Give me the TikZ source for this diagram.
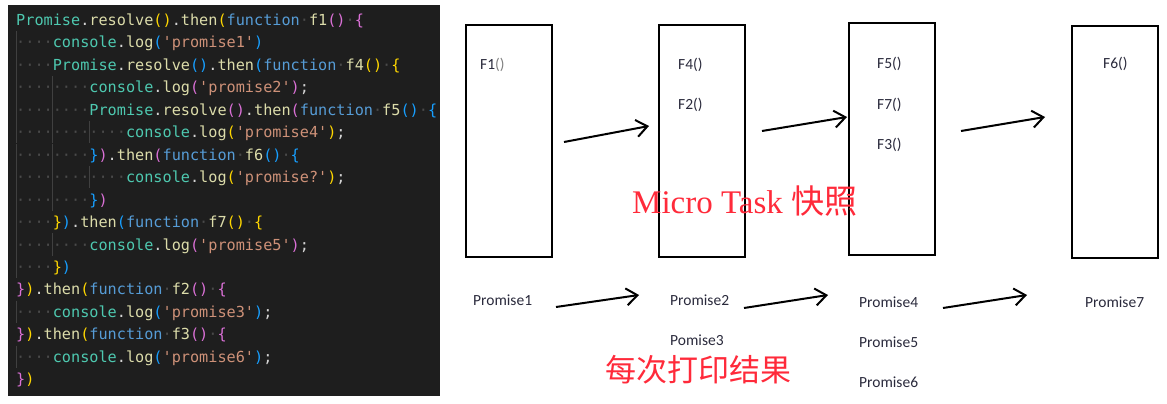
\documentclass[tikz,border=0pt]{standalone}
\usepackage{fontspec}
\setmonofont{DejaVu Sans Mono}
\newfontfamily\lab{Carlito}
\newfontfamily\redser{Liberation Serif}
\newfontfamily\cjk{Noto Sans CJK SC}
\usetikzlibrary{arrows.meta}
\definecolor{bgc}{HTML}{1E1E1E}
\definecolor{cls}{HTML}{4EC9B0}
\definecolor{fnc}{HTML}{DCDCAA}
\definecolor{kwc}{HTML}{569CD6}
\definecolor{strc}{HTML}{CE9178}
\definecolor{punc}{HTML}{D4D4D4}
\definecolor{brA}{HTML}{FFD700}
\definecolor{brB}{HTML}{DA70D6}
\definecolor{brC}{HTML}{179FFF}
\definecolor{wsc}{HTML}{4A4A4A}
\definecolor{guide}{HTML}{404040}
\definecolor{labc}{HTML}{2A2A3C}
\definecolor{redt}{HTML}{FF2A3A}
\newcommand\Cl[1]{\textcolor{cls}{#1}}
\newcommand\Fn[1]{\textcolor{fnc}{#1}}
\newcommand\Kw[1]{\textcolor{kwc}{#1}}
\newcommand\St[1]{\textcolor{strc}{#1}}
\newcommand\Pu[1]{\textcolor{punc}{#1}}
\newcommand\bra[1]{\textcolor{brA}{#1}}
\newcommand\brb[1]{\textcolor{brB}{#1}}
\newcommand\brc[1]{\textcolor{brC}{#1}}
\newcommand\wsp{\textcolor{wsc}{·}}
\newcommand\wsf{\wsp\wsp\wsp\wsp}
\newcommand\codeln[2]{\node[codeln] (c#1) at (16,{25.5+22.45*(#1-1)}) {#2};}
\newcommand\guideseg[2]{\draw[guidel] ({16+9.15*#1},{20+22.45*(#2-1)-11.2}) -- ({16+9.15*#1},{20+22.45*(#2-1)+11.2});}
\begin{document}
\begin{tikzpicture}[x=1pt,y=-1pt,
  codeln/.style={anchor=base west,inner sep=0pt,font=\ttfamily\fontsize{15.2}{18}\selectfont},
  guidel/.style={draw=guide,line width=0.8pt},
  qbox/.style={draw=black,line width=2pt,minimum width=86pt,minimum height=232pt,inner sep=0pt},
  flab/.style={anchor=west,inner sep=0pt,text=labc,font=\lab\fontsize{15.5}{18}\selectfont},
  plab/.style={anchor=west,inner sep=0pt,text=labc,font=\lab\fontsize{15.5}{18}\selectfont},
  arr/.style={line width=2pt,-{Straight Barb[length=11pt,width=17pt,line width=2pt]}}]
\useasboundingbox (0,0) rectangle (1167,404);
% code panel
\fill[bgc] (8,5) rectangle (440,396);
% indent guides
\foreach \r in {2,...,12,14,16} {\guideseg{0}{\r}}
\foreach \r in {4,...,9,11} {\guideseg{4}{\r}}
\foreach \r in {6,8} {\guideseg{8}{\r}}
\codeln{1}{\Cl{Promise}\Pu{.}\Fn{resolve}\bra{()}\Pu{.}\Fn{then}\bra{(}\Kw{function}\wsp\Fn{f1}\brb{()}\wsp\brb{\{}}
\codeln{2}{\wsf\Cl{console}\Pu{.}\Fn{log}\brc{(}\St{'promise1'}\brc{)}}
\codeln{3}{\wsf\Cl{Promise}\Pu{.}\Fn{resolve}\brc{()}\Pu{.}\Fn{then}\brc{(}\Kw{function}\wsp\Fn{f4}\bra{()}\wsp\bra{\{}}
\codeln{4}{\wsf\wsf\Cl{console}\Pu{.}\Fn{log}\brb{(}\St{'promise2'}\brb{)}\Pu{;}}
\codeln{5}{\wsf\wsf\Cl{Promise}\Pu{.}\Fn{resolve}\brb{()}\Pu{.}\Fn{then}\brb{(}\Kw{function}\wsp\Fn{f5}\brc{()}\wsp\brc{\{}}
\codeln{6}{\wsf\wsf\wsf\Cl{console}\Pu{.}\Fn{log}\bra{(}\St{'promise4'}\bra{)}\Pu{;}}
\codeln{7}{\wsf\wsf\brc{\}}\brb{)}\Pu{.}\Fn{then}\brb{(}\Kw{function}\wsp\Fn{f6}\brc{()}\wsp\brc{\{}}
\codeln{8}{\wsf\wsf\wsf\Cl{console}\Pu{.}\Fn{log}\bra{(}\St{'promise?'}\bra{)}\Pu{;}}
\codeln{9}{\wsf\wsf\brc{\}}\brb{)}}
\codeln{10}{\wsf\bra{\}}\brc{)}\Pu{.}\Fn{then}\brc{(}\Kw{function}\wsp\Fn{f7}\bra{()}\wsp\bra{\{}}
\codeln{11}{\wsf\wsf\Cl{console}\Pu{.}\Fn{log}\brb{(}\St{'promise5'}\brb{)}\Pu{;}}
\codeln{12}{\wsf\bra{\}}\brc{)}}
\codeln{13}{\brb{\}}\bra{)}\Pu{.}\Fn{then}\bra{(}\Kw{function}\wsp\Fn{f2}\brb{()}\wsp\brb{\{}}
\codeln{14}{\wsf\Cl{console}\Pu{.}\Fn{log}\brc{(}\St{'promise3'}\brc{)}\Pu{;}}
\codeln{15}{\brb{\}}\bra{)}\Pu{.}\Fn{then}\bra{(}\Kw{function}\wsp\Fn{f3}\brb{()}\wsp\brb{\{}}
\codeln{16}{\wsf\Cl{console}\Pu{.}\Fn{log}\brc{(}\St{'promise6'}\brc{)}\Pu{;}}
\codeln{17}{\brb{\}}\bra{)}}
% snapshot boxes
\node[qbox] (q1) at (509,141) {};
\node[qbox] (q2) at (701.5,141) {};
\node[qbox] (q3) at (891.5,139) {};
\node[qbox] (q4) at (1114.5,142) {};
\node[flab] (f1) at (480,65) {F1\textcolor{gray}{()}};
\node[flab] (f4) at (678,65) {F4()};
\node[flab] (f2) at (678,105) {F2()};
\node[flab] (f5) at (877,64) {F5()};
\node[flab] (f7) at (877,105) {F7()};
\node[flab] (f3) at (877,145) {F3()};
\node[flab] (f6) at (1103,64) {F6()};
% arrows between snapshots
\coordinate (a1s) at (564,142); \coordinate (a1e) at (649,126);
\coordinate (a2s) at (762,131); \coordinate (a2e) at (847,117);
\coordinate (a3s) at (961,131); \coordinate (a3e) at (1045,117);
\draw[arr] (a1s) -- (a1e);
\draw[arr] (a2s) -- (a2e);
\draw[arr] (a3s) -- (a3e);
% printed results
\node[plab] (p1) at (473,300) {Promise1};
\node[plab] (p2) at (670,300) {Promise2};
\node[plab] (p3) at (670,340) {Pomise3};
\node[plab] (p4) at (859,302) {Promise4};
\node[plab] (p5) at (859,342) {Promise5};
\node[plab] (p6) at (859,382) {Promise6};
\node[plab] (p7) at (1085,302) {Promise7};
\coordinate (b1s) at (556,307); \coordinate (b1e) at (639,295);
\coordinate (b2s) at (744,308); \coordinate (b2e) at (828,295);
\coordinate (b3s) at (943,308); \coordinate (b3e) at (1027,295);
\draw[arr] (b1s) -- (b1e);
\draw[arr] (b2s) -- (b2e);
\draw[arr] (b3s) -- (b3e);
% red captions
\node[anchor=base west,inner sep=0pt,text=redt,font=\redser\fontsize{33}{36}\selectfont] (mt) at (632,213) {Micro Task {\cjk 快照}};
\node[anchor=center,inner sep=0pt,text=redt,font=\cjk\fontsize{31}{36}\selectfont] (pr) at (698,370) {每次打印结果};
\end{tikzpicture}
\end{document}
